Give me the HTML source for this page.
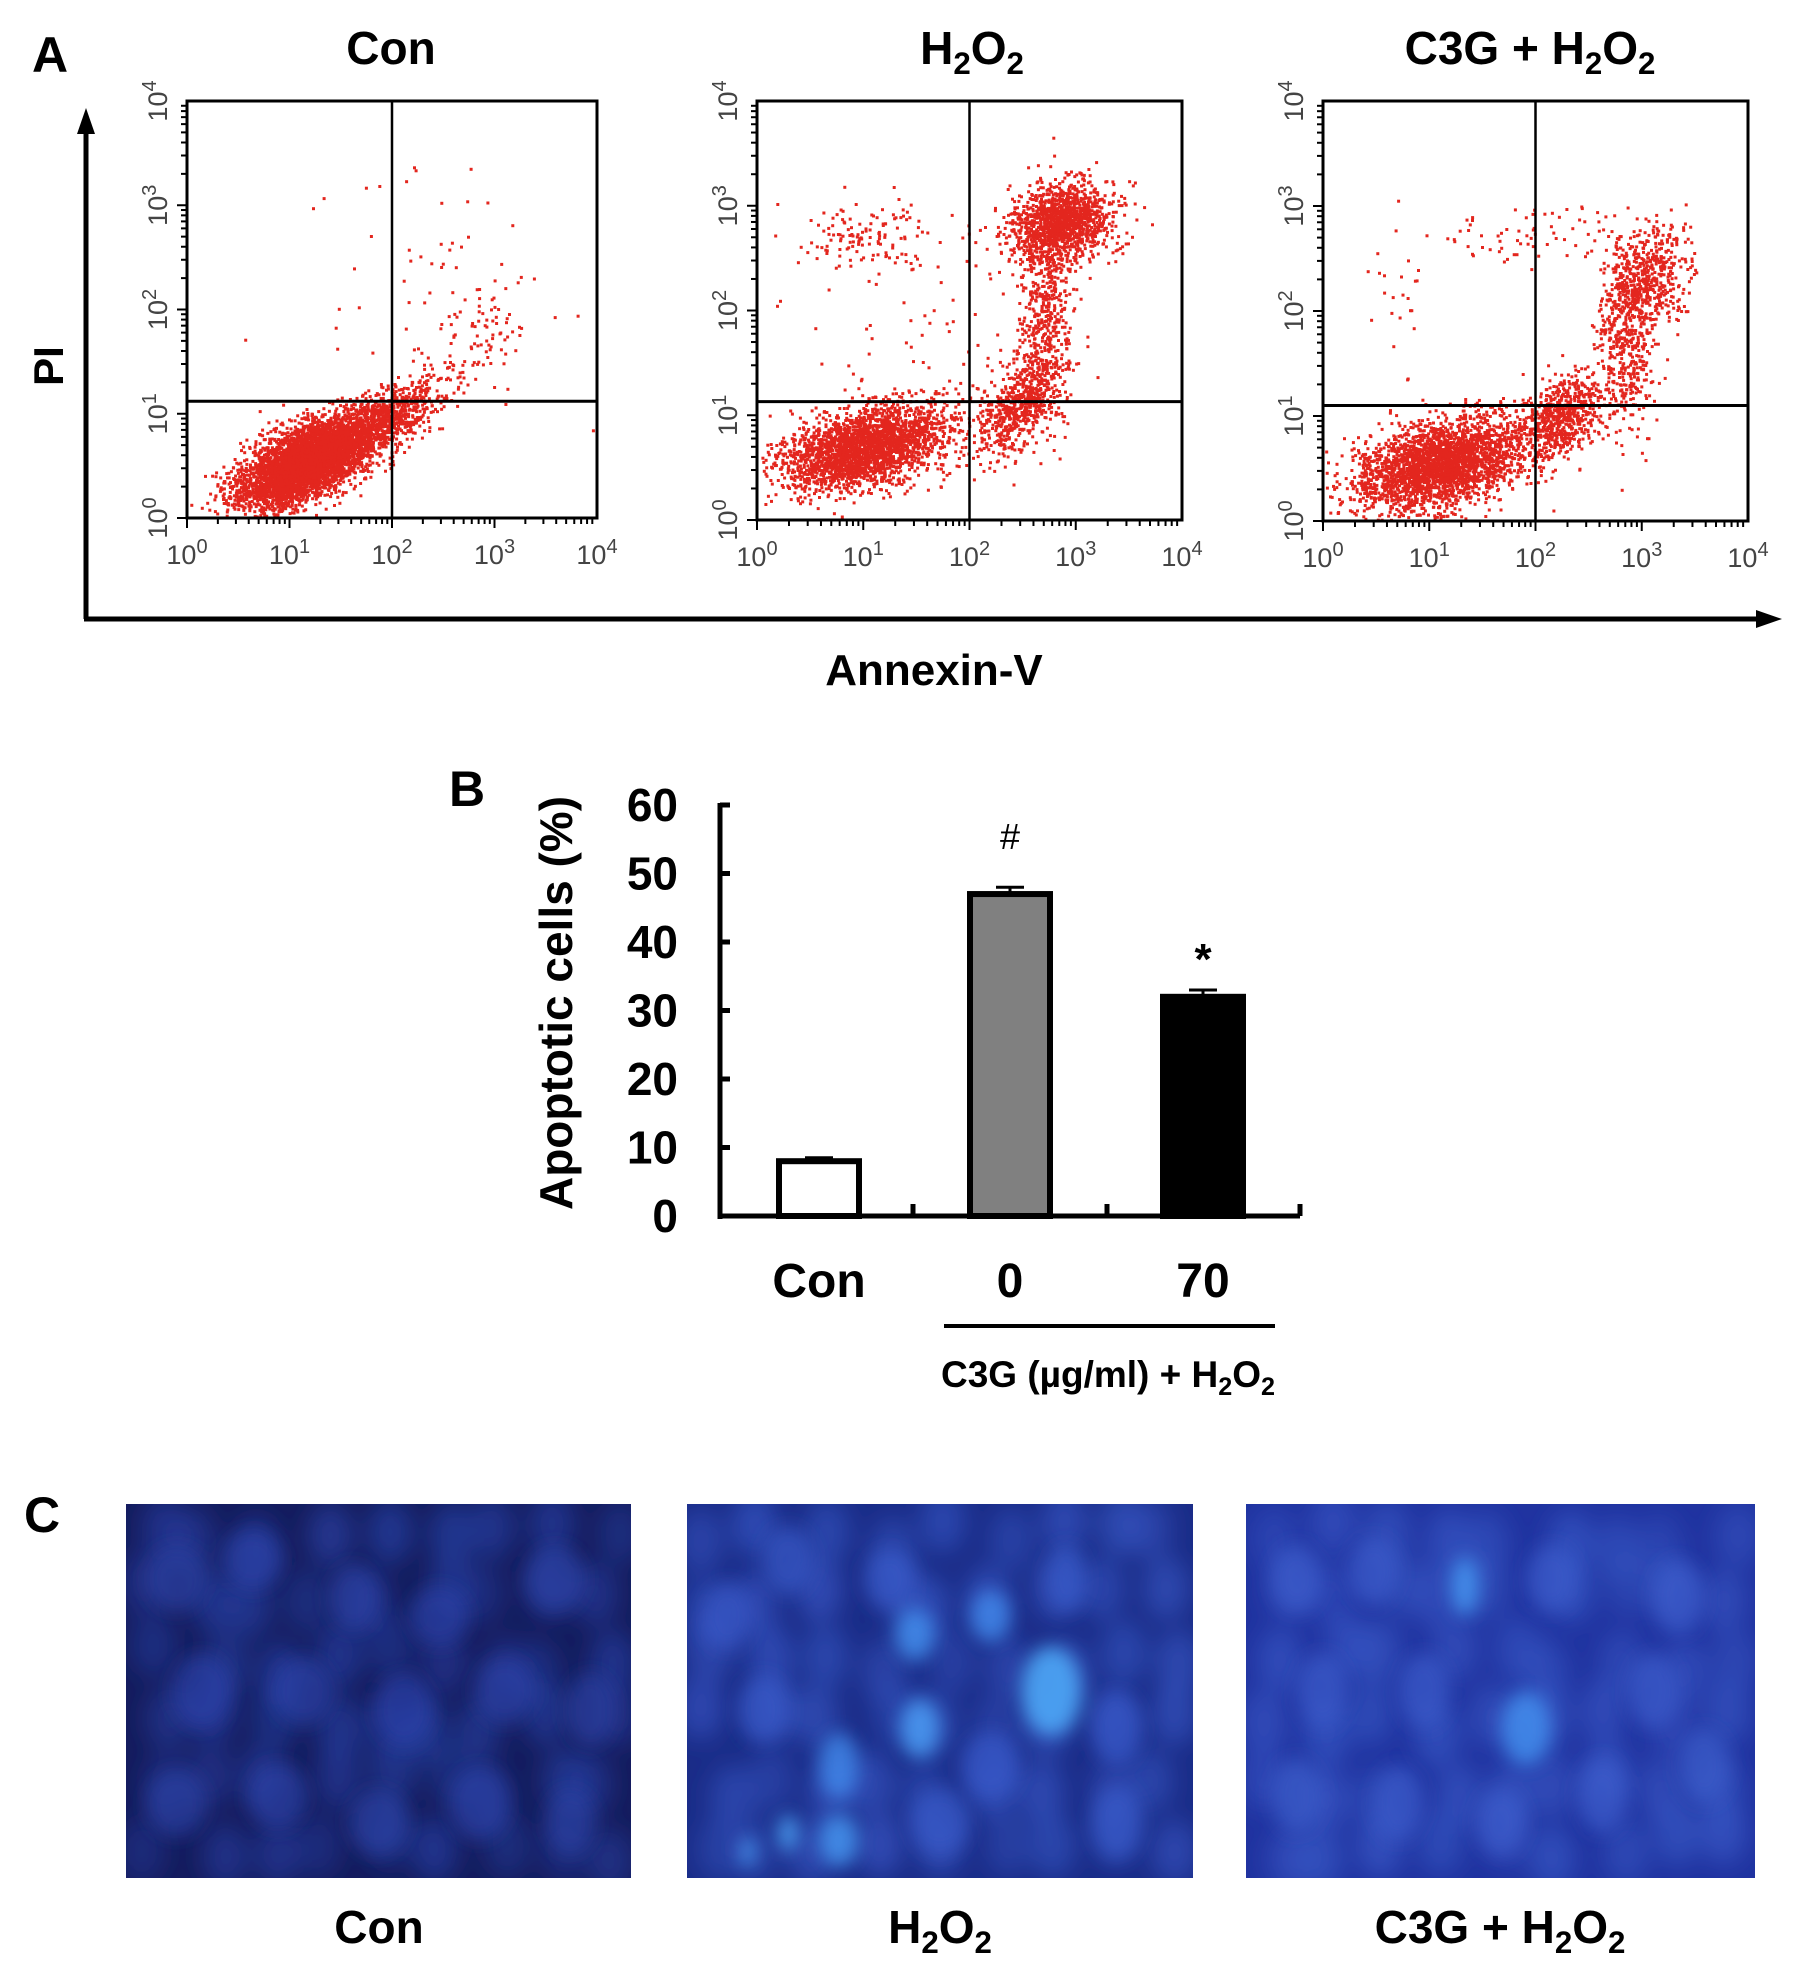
<!DOCTYPE html>
<html><head><meta charset="utf-8">
<style>
html,body{margin:0;padding:0;background:#fff;}
body{width:1795px;height:1977px;overflow:hidden;font-family:"Liberation Sans",sans-serif;}
svg text{font-family:"Liberation Sans",sans-serif;}
</style></head>
<body>
<svg id="fig" width="1795" height="1977" viewBox="0 0 1795 1977" xmlns="http://www.w3.org/2000/svg">
<defs>
<filter id="blur1" x="-20%" y="-20%" width="140%" height="140%"><feGaussianBlur stdDeviation="9"/></filter>
<filter id="blur0" x="-20%" y="-20%" width="140%" height="140%"><feGaussianBlur stdDeviation="12"/></filter>
<clipPath id="clipC1"><rect x="126" y="1504" width="505" height="374"/></clipPath>
<clipPath id="clipC2"><rect x="687" y="1504" width="506" height="374"/></clipPath>
<clipPath id="clipC3"><rect x="1246" y="1504" width="509" height="374"/></clipPath>
</defs>
<g id="panelA"></g>
<g id="panelB"></g>
<g id="panelC"></g>
</svg>
<script>
// ---------- Panel B data ----------
const barCategories = ["Con", "0", "70"];
const barValues = [8, 47, 32];
const barErrors = [0.5, 1.0, 1.0];
const barFills = ["#ffffff", "#808080", "#000000"];
const barMarks = ["", "#", "*"];
const yTicks = [0, 10, 20, 30, 40, 50, 60];

// ---------- Panel A data (flow cytometry clusters, log10 units) ----------
const plotTitles = ["Con", "H2O2", "C3G + H2O2"];
// each cluster: [centerX, centerY, spreadX, spreadY, correlation, count]
const clustersCon = [[1.15,0.55,0.33,0.22,0.6,4200],[1.85,0.9,0.3,0.2,0.7,900],[2.75,1.6,0.35,0.3,0.6,120],[2.4,2.4,0.6,0.55,0,45]];
const clustersH2O2 = [[1.0,0.7,0.4,0.2,0.4,2600],[2.45,1.1,0.2,0.25,0.5,600],[2.85,2.85,0.25,0.18,0.2,1300],[2.7,2.0,0.13,0.5,0,500],[0.95,2.7,0.3,0.15,0,120],[1.6,1.8,0.7,0.6,0,90]];
const clustersC3G = [[1.1,0.55,0.4,0.22,0.4,2800],[2.25,1.0,0.2,0.2,0.4,650],[3.05,2.35,0.2,0.25,0.2,500],[2.85,1.7,0.13,0.38,0,450],[1.9,2.75,0.45,0.15,0,70],[0.7,2.2,0.2,0.4,0,25]];
const gatesX = [2.0, 2.0, 2.0];
const gatesY = [1.12, 1.13, 1.1];
const logTicks = [0, 1, 2, 3, 4];

// ---------- Panel C data ----------
const nucleiCon = [[0.1,0.2,0.06,0.09,0.3],[0.25,0.15,0.06,0.08,0.35],[0.45,0.25,0.05,0.09,0.3],[0.62,0.3,0.06,0.08,0.4],[0.85,0.2,0.06,0.09,0.3],[0.15,0.5,0.06,0.1,0.4],[0.35,0.5,0.06,0.09,0.35],[0.55,0.55,0.06,0.1,0.45],[0.75,0.5,0.06,0.09,0.35],[0.92,0.55,0.05,0.1,0.3],[0.1,0.8,0.06,0.09,0.3],[0.3,0.78,0.06,0.09,0.35],[0.5,0.85,0.06,0.09,0.3],[0.7,0.8,0.06,0.1,0.35],[0.88,0.85,0.05,0.09,0.3]];
const nucleiH2O2 = [[0.08,0.3,0.05,0.09,0.4],[0.2,0.15,0.05,0.09,0.45],[0.4,0.2,0.05,0.08,0.45],[0.45,0.35,0.04,0.07,0.75],[0.6,0.3,0.04,0.07,0.7],[0.75,0.2,0.04,0.09,0.55],[0.46,0.6,0.04,0.08,0.85],[0.72,0.5,0.06,0.12,0.95],[0.3,0.7,0.04,0.09,0.7],[0.15,0.55,0.05,0.09,0.45],[0.6,0.7,0.06,0.09,0.5],[0.85,0.6,0.05,0.1,0.5],[0.3,0.9,0.04,0.07,0.8],[0.2,0.88,0.02,0.05,0.9],[0.12,0.93,0.015,0.04,0.85],[0.5,0.85,0.06,0.09,0.45],[0.85,0.85,0.05,0.1,0.45]];
const nucleiC3G = [[0.1,0.2,0.05,0.09,0.5],[0.25,0.18,0.05,0.09,0.5],[0.43,0.22,0.03,0.08,0.8],[0.6,0.2,0.05,0.09,0.5],[0.85,0.25,0.05,0.1,0.5],[0.15,0.5,0.05,0.1,0.5],[0.35,0.5,0.05,0.1,0.5],[0.55,0.6,0.05,0.1,0.75],[0.8,0.5,0.05,0.1,0.5],[0.1,0.78,0.05,0.1,0.55],[0.3,0.8,0.05,0.1,0.5],[0.5,0.85,0.05,0.09,0.5],[0.7,0.78,0.05,0.1,0.5],[0.9,0.7,0.05,0.1,0.55]];

const NS = "http://www.w3.org/2000/svg";
function mk(tag, attrs, parent){ const e=document.createElementNS(NS,tag); for(const k in attrs) e.setAttribute(k,attrs[k]); if(parent) parent.appendChild(e); return e; }
function txt(parent, x, y, s, size, anchor, weight, extra){ const t=mk("text",Object.assign({x:x,y:y,"font-size":size,"text-anchor":anchor||"middle","font-weight":weight||"bold",fill:"#000"},extra||{}),parent); t.textContent=s; return t; }
function h2o2(parent, x, y, size, anchor, prefix){
  const t=mk("text",{x:x,y:y,"font-size":size,"text-anchor":anchor||"middle","font-weight":"bold",fill:"#000"},parent);
  const parts=[[prefix+"H",0],["2",1],["O",0],["2",1]];
  parts.forEach(p=>{const s=mk("tspan",{},t); s.textContent=p[0]; if(p[1]){s.setAttribute("font-size",size*0.68); s.setAttribute("dy",size*0.22);} else if(t.childNodes.length>1){s.setAttribute("dy",-size*0.22);} });
  return t;
}
function hrand(i, k){ const v=Math.sin(i*12.9898+k*78.233)*43758.5453; return v-Math.floor(v); }
function gauss(i,k){ const u=Math.max(1e-6,hrand(i,k)), v=hrand(i,k+7); return Math.sqrt(-2*Math.log(u))*Math.cos(2*Math.PI*v); }

// ---------- Panel A ----------
const A = document.getElementById("panelA");
let t = txt(A, 50, 72, "A", 50);
 
const boxes = [[187,101,597,518],[757,101,1182,520],[1323,101,1748,521]];
const allClusters = [clustersCon, clustersH2O2, clustersC3G];
const titleX = [391, 972, 1530];
boxes.forEach((b,pi)=>{
  const g = mk("g",{},A);
  
  
  const [x0,y0,x1,y1]=b;
  const sx = v => x0 + v/4*(x1-x0);
  const sy = v => y1 - v/4*(y1-y0);
  let tt;
  if(pi===0){ tt=txt(g,titleX[pi],64,"Con",46); }
  else if(pi===1){ tt=h2o2(g,titleX[pi],64,46,"middle",""); }
  else { tt=h2o2(g,titleX[pi],64,46,"middle","C3G + "); }
  
  
  const pts = mk("g",{fill:"#e3261e"},g);
  
  
  let idx = pi*100000;
  allClusters[pi].forEach(c=>{
    const [cx,cy,sdx,sdy,rho,n]=c;
    for(let i=0;i<n;i++){
      idx++;
      const a=gauss(idx,1), bb=gauss(idx,3);
      const lx = cx + sdx*a;
      const ly = cy + sdy*(rho*a + Math.sqrt(1-rho*rho)*bb);
      if(lx<0.02||lx>3.98||ly<0.02||ly>3.98) continue;
      mk("rect",{x:sx(lx).toFixed(1),y:sy(ly).toFixed(1),width:3,height:3},pts);
    }
  });
  const box = mk("rect",{x:x0,y:y0,width:x1-x0,height:y1-y0,fill:"none",stroke:"#000","stroke-width":3},g);
   
  const gv = mk("line",{x1:sx(gatesX[pi]),x2:sx(gatesX[pi]),y1:y0,y2:y1,stroke:"#000","stroke-width":2.5},g);
   
  const gh = mk("line",{x1:x0,x2:x1,y1:sy(gatesY[pi]),y2:sy(gatesY[pi]),stroke:"#000","stroke-width":3},g);
   
  for(let d=0; d<4; d++){
    for(let m=1;m<10;m++){
      const v=d+Math.log10(m); const len = m===1?10:6;
      mk("line",{x1:sx(v),x2:sx(v),y1:y1,y2:y1+len,stroke:"#000","stroke-width":2},g);
      mk("line",{x1:x0,x2:x0-len,y1:sy(v),y2:sy(v),stroke:"#000","stroke-width":2},g);
    }
  }
  logTicks.forEach(d=>{
    const xl = mk("text",{x:sx(d),y:y1+46,"font-size":27,"text-anchor":"middle",fill:"#444"},g);
     
    const s1=mk("tspan",{},xl); s1.textContent="10"; const s2=mk("tspan",{dy:-11,"font-size":20},xl); s2.textContent=String(d);
    const yl = mk("text",{x:0,y:0,"font-size":27,"text-anchor":"middle",fill:"#444",transform:`translate(${x0-20},${sy(d)}) rotate(-90)`},g);
     
    const s3=mk("tspan",{},yl); s3.textContent="10"; const s4=mk("tspan",{dy:-11,"font-size":20},yl); s4.textContent=String(d);
  });
});
const ax = mk("g",{},A);
 
mk("line",{x1:86,y1:619,x2:86,y2:130,stroke:"#000","stroke-width":5},ax);
mk("polygon",{points:"86,108 77,134 95,134",fill:"#000"},ax);
mk("line",{x1:84,y1:619,x2:1758,y2:619,stroke:"#000","stroke-width":5},ax);
mk("polygon",{points:"1782,619 1756,610 1756,628",fill:"#000"},ax);
t = txt(A,0,0,"PI",42,"middle","bold",{transform:"translate(63,366) rotate(-90)"});
 
t = txt(A,934,685,"Annexin-V",44);
 

// ---------- Panel B ----------
const B = document.getElementById("panelB");
t = txt(B,467,806,"B",50);
 
const by0=1216, by1=805, bxL=720, bxR=1300;
const yS = v => by0 - v/60*(by0-by1);
const barCenters = [819, 1010, 1203];
const barW = 80;
const ya = mk("g",{},B);
 
mk("line",{x1:bxL,x2:bxL,y1:yS(60)-2,y2:by0+3,stroke:"#000","stroke-width":5},ya);
yTicks.forEach(v=>{
  mk("line",{x1:bxL,x2:bxL+10,y1:yS(v),y2:yS(v),stroke:"#000","stroke-width":5},ya);
  const l = txt(ya,678,yS(v)+16,String(v),46,"end");
   
});
const xa = mk("g",{},B);
 
mk("line",{x1:bxL-2,x2:bxR,y1:by0,y2:by0,stroke:"#000","stroke-width":5},xa);
[913,1107,1300].forEach(x=>mk("line",{x1:x,x2:x,y1:by0,y2:by0-12,stroke:"#000","stroke-width":5},xa));
t = txt(B,0,0,"Apoptotic cells (%)",46,"middle","bold",{transform:"translate(572,1003) rotate(-90)"});
 
barValues.forEach((v,i)=>{
  const g = mk("g",{},B);
  
  
  const cx = barCenters[i];
  mk("rect",{x:cx-barW/2,y:yS(v),width:barW,height:by0-yS(v),fill:barFills[i],stroke:"#000","stroke-width":6},g);
  const e = v+barErrors[i];
  mk("line",{x1:cx,x2:cx,y1:yS(v),y2:yS(e),stroke:"#000","stroke-width":3},g);
  mk("line",{x1:cx-14,x2:cx+14,y1:yS(e),y2:yS(e),stroke:"#000","stroke-width":3},g);
  if(barMarks[i]){
    const m = txt(g,cx,yS(e)-(barMarks[i]==="#"?38:16),barMarks[i],barMarks[i]==="#"?36:44,"middle",barMarks[i]==="#"?"normal":"bold",{"font-family":"Liberation Serif"});
     
  }
  const cl = txt(B,cx,1297,barCategories[i],48);
   
});
const gl = mk("line",{x1:944,x2:1275,y1:1326,y2:1326,stroke:"#000","stroke-width":4},B);
 
t = h2o2(B,1108,1387,37,"middle","C3G (µg/ml) + ");
 

// ---------- Panel C ----------
const C = document.getElementById("panelC");
t = txt(C,42,1532,"C",50);
 
const imgs = [[126,1504,505,374,"#141c5e","#2a44ac",nucleiCon,"clipC1"],[687,1504,506,374,"#1a2c88","#3a5ccc",nucleiH2O2,"clipC2"],[1246,1504,509,374,"#2033a0","#3c5ecc",nucleiC3G,"clipC3"]];
const capX=[379,940,1500];
imgs.forEach((im,i)=>{
  const [x,y,w,h,bg,nc,nuc,clip]=im;
  const g = mk("g",{"clip-path":`url(#${clip})`},C);
  
  
  mk("rect",{x:x,y:y,width:w,height:h,fill:bg},g);
  // background texture of dim nuclei
  const tex = mk("g",{filter:"url(#blur0)"},g);
  for(let r=0;r<6;r++) for(let c=0;c<9;c++){
    const k=i*1000+r*20+c;
    const fx=(c+0.5)/9+(hrand(k,11)-0.5)*0.07, fy=(r+0.5)/6+(hrand(k,13)-0.5)*0.08;
    mk("ellipse",{cx:x+fx*w,cy:y+fy*h,rx:w*0.045,ry:h*0.085,fill:nc,opacity:0.35+0.25*hrand(k,17)},tex);
  }
  const inner = mk("g",{filter:"url(#blur1)"},g);
  nuc.forEach(n=>{
    const [fx,fy,rx,ry,br]=n;
    const col = br>0.65 ? `rgb(${Math.round(40+40*br)},${Math.round(120+110*(br-0.5))},${Math.round(220+30*br)})` : nc;
    mk("ellipse",{cx:x+fx*w,cy:y+fy*h,rx:rx*w,ry:ry*h,fill:col,opacity:0.45+0.45*br},inner);
  });
  let cap;
  if(i===0) cap=txt(C,capX[i],1943,"Con",46);
  else if(i===1) cap=h2o2(C,capX[i],1943,46,"middle","");
  else cap=h2o2(C,capX[i],1943,46,"middle","C3G + ");
   
});
</script>
</body></html>
